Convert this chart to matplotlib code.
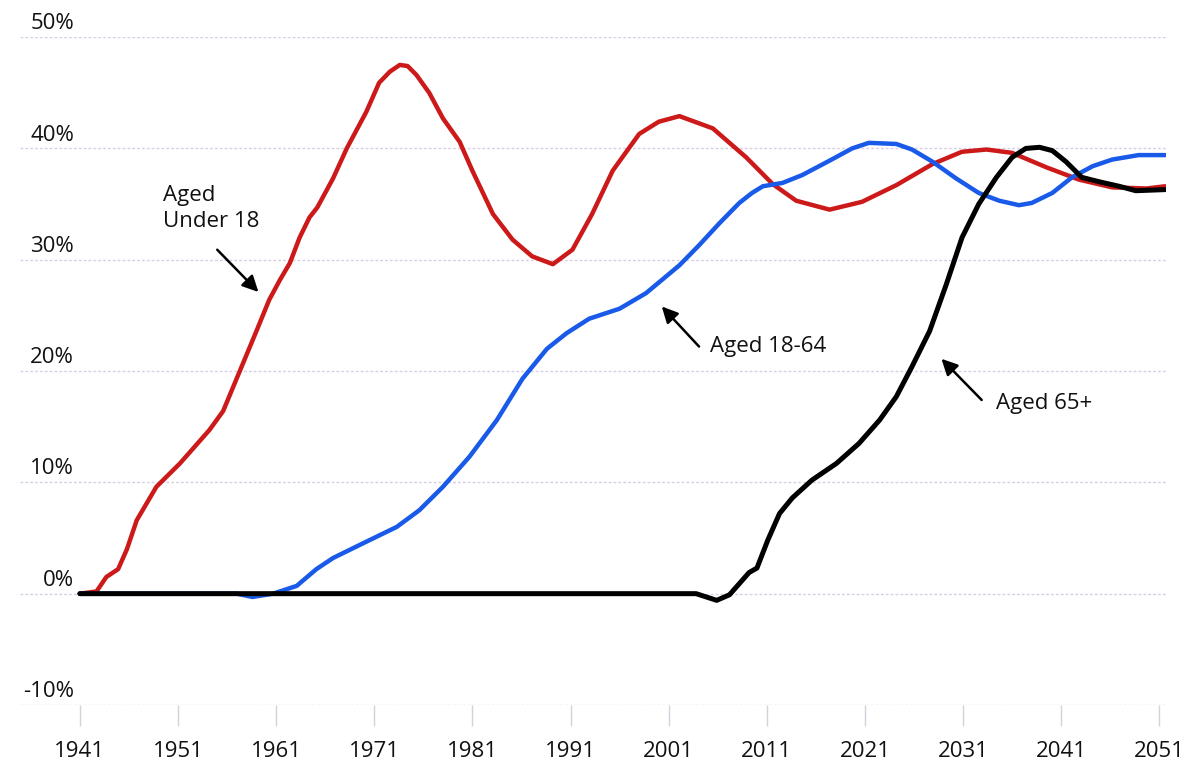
import matplotlib
matplotlib.use('Agg')
import matplotlib.pyplot as plt

# Share of growth by age group
years_u18 = [1941, 1942.7, 1943.7, 1944.9, 1945.8, 1946.8, 1948.8, 1951.2, 1954.2, 1955.6,
             1957.3, 1959, 1960.3, 1961.4, 1962.4, 1963.4, 1964.4, 1965.2, 1966.8, 1968.2,
             1970.2, 1971.5, 1972.6, 1973.6, 1974.4, 1975.3, 1976.6, 1978, 1979.7, 1981,
             1983.1, 1985.1, 1987.1, 1989.2, 1991.2, 1993.2, 1995.3, 1998, 2000, 2002.1,
             2005.5, 2008.9, 2011.6, 2014, 2017.4, 2020.7, 2024.2, 2027.9, 2030.9, 2033.4,
             2036, 2039.5, 2042.8, 2046.2, 2049.7, 2051.6]
share_u18 = [0, 0.2, 1.5, 2.2, 4.0, 6.6, 9.6, 11.7, 14.7, 16.4,
             20.0, 23.6, 26.4, 28.2, 29.7, 32.0, 33.8, 34.7, 37.3, 40.0,
             43.3, 45.9, 46.9, 47.5, 47.4, 46.6, 45.0, 42.7, 40.6, 38.0,
             34.1, 31.8, 30.3, 29.6, 30.9, 34.1, 38.0, 41.3, 42.4, 42.9,
             41.8, 39.2, 36.8, 35.3, 34.5, 35.2, 36.7, 38.6, 39.7, 39.9,
             39.6, 38.3, 37.2, 36.5, 36.4, 36.6]

years_1864 = [1941, 1957, 1958.6, 1960.7, 1963.1, 1965.1, 1966.8, 1969.8, 1973.3, 1975.6,
              1978, 1980.7, 1983.5, 1986.1, 1988.6, 1990.6, 1992.9, 1996, 1998.7, 2002.1,
              2004.1, 2006.2, 2008.2, 2009.5, 2010.6, 2012.6, 2014.6, 2017.4, 2019.7, 2021.4,
              2024.2, 2025.8, 2027.9, 2030.3, 2032.6, 2034.7, 2036.7, 2038, 2040.1, 2042.1,
              2044.2, 2046.2, 2048.9, 2051.6]
share_1864 = [0, 0, -0.3, 0, 0.7, 2.2, 3.2, 4.5, 6.0, 7.5,
              9.6, 12.3, 15.6, 19.3, 22.0, 23.4, 24.7, 25.6, 27.0, 29.5,
              31.3, 33.3, 35.1, 36.0, 36.6, 36.9, 37.6, 38.9, 40.0, 40.5,
              40.4, 39.9, 38.8, 37.3, 36.0, 35.3, 34.9, 35.1, 36.0, 37.4,
              38.4, 39.0, 39.4, 39.4]

years_65 = [1941, 2003.8, 2005.9, 2007.2, 2008.2, 2009.2, 2010, 2011.1, 2012.3, 2013.6,
            2015.6, 2018.1, 2020.4, 2022.5, 2024.2, 2025.8, 2027.6, 2029.3, 2030.9, 2032.6,
            2034.4, 2036, 2037.4, 2038.8, 2040.1, 2041.5, 2043.1, 2044.9, 2046.9, 2048.6,
            2051.6]
share_65 = [0, 0, -0.6, -0.1, 0.9, 1.9, 2.3, 4.8, 7.2, 8.6,
            10.2, 11.7, 13.5, 15.6, 17.7, 20.4, 23.6, 27.8, 32.0, 35.0,
            37.4, 39.2, 40.0, 40.1, 39.8, 38.8, 37.4, 37.0, 36.6, 36.2,
            36.3]

x_ticks = [1941, 1951, 1961, 1971, 1981, 1991, 2001, 2011, 2021, 2031, 2041, 2051]
y_ticks = [-10, 0, 10, 20, 30, 40, 50]
y_labels = ['-10%', '0%', '10%', '20%', '30%', '40%', '50%']

plt.rcParams['font.family'] = ['Open Sans', 'DejaVu Sans']

fig = plt.figure(figsize=(11.89, 7.73), dpi=100)
ax = fig.add_axes([0.0168, 0.088, 0.964, 0.864])

# faint dotted gridlines
for v in y_ticks:
    ax.axhline(v, color='#d9cde3', linestyle=(0, (2, 1.5)), linewidth=1.0, zorder=0)

ax.plot(years_u18, share_u18, color='#cc1a1a', linewidth=3.2, solid_joinstyle='round',
        solid_capstyle='round', zorder=3)
ax.plot(years_1864, share_1864, color='#1a5ae8', linewidth=3.2, solid_joinstyle='round',
        solid_capstyle='round', zorder=4)
ax.plot(years_65, share_65, color='black', linewidth=3.6, solid_joinstyle='round',
        solid_capstyle='round', zorder=5)

ax.set_xlim(1934.9, 2051.7)
ax.set_ylim(-10, 50)

ax.set_xticks(x_ticks)
ax.set_xticklabels([str(y) for y in x_ticks], fontsize=16, color='#111111')
ax.tick_params(axis='x', length=15, width=1, color='#d6d0dc', pad=11)
ax.set_yticks([])

# y labels sit just above their gridlines
for v, lab in zip(y_ticks, y_labels):
    ax.text(1940.4, v + 1.2, lab, ha='right', va='center', fontsize=16, color='#111111')

for s in ax.spines.values():
    s.set_visible(False)

arrow = dict(arrowstyle='-|>', color='black', lw=1.8, mutation_scale=24,
             shrinkA=0, shrinkB=0)
ax.text(1949.5, 34.6, 'Aged\nUnder 18', ha='left', va='center', fontsize=16,
        linespacing=1.35, color='#111111')
ax.annotate('', xy=(1959.2, 27.1), xytext=(1955.0, 30.9), arrowprops=arrow)
ax.text(2005.2, 22.2, 'Aged 18-64', ha='left', va='center', fontsize=16, color='#111111')
ax.annotate('', xy=(2000.3, 25.8), xytext=(2004.1, 22.2), arrowprops=arrow)
ax.text(2034.4, 17.1, 'Aged 65+', ha='left', va='center', fontsize=16, color='#111111')
ax.annotate('', xy=(2028.8, 21.1), xytext=(2032.9, 17.4), arrowprops=arrow)

plt.savefig('out.png', dpi=100)
